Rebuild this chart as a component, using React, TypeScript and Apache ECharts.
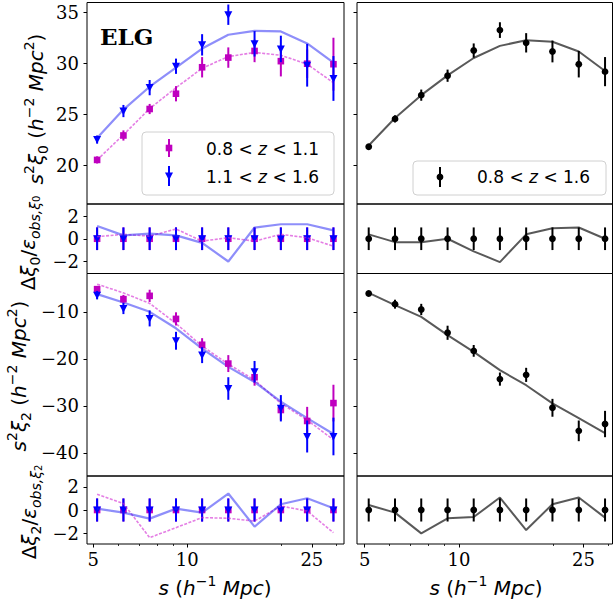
import React, { useEffect, useRef } from 'react';
import * as echarts from 'echarts';

// ---------------- data ----------------
const sBins = [5.15, 6.25, 7.58, 9.2, 11.15, 13.52, 16.4, 19.9, 24.15, 29.3];
const majorTicks = [5, 10, 25];
const minorTicks = [6, 7, 8, 9, 20, 30];
const xi0Ticks = [20, 25, 30, 35];
const xi2Ticks = [-40, -30, -20, -10];
const resTicks = [-2, 0, 2];

const legendLow = '0.8 < z < 1.1';
const legendHigh = '1.1 < z < 1.6';
const legendAll = '0.8 < z < 1.6';

const xi0LowZ = [20.5, 22.9, 25.5, 27.0, 29.6, 30.55, 31.2, 30.2, 29.95, 29.9];
const xi0LowZErr = [0.35, 0.5, 0.5, 0.75, 1.0, 1.0, 1.1, 1.5, 1.4, 2.6];
const xi0HighZ = [22.5, 25.3, 27.6, 29.7, 31.8, 34.76, 31.9, 31.4, 29.8, 28.5];
const xi0HighZErr = [0.4, 0.6, 0.75, 0.75, 1.05, 1.0, 1.25, 1.3, 2.1, 2.2];
const xi0LowZModel = [20.5, 22.97, 25.54, 27.59, 29.5, 30.65, 31.05, 30.78, 29.9, 28.08];
const xi0HighZModel = [22.65, 25.44, 27.69, 29.57, 31.44, 32.79, 33.18, 33.12, 31.94, 30.06];
const res0LowZ = [0.18, 0.39, 0.23, 0.86, -0.21, 0.09, -0.21, 0.39, 0.09, -0.66];
const res0HighZ = [1.13, 0.3, 0.45, 0.3, -0.36, -2.01, 0.99, 1.28, 1.28, 0.74];

const xi0All = [21.79, 24.53, 26.86, 28.77, 31.24, 33.25, 32.0, 31.15, 29.9, 29.17];
const xi0AllErr = [0.2, 0.35, 0.55, 0.6, 0.7, 0.77, 0.95, 1.07, 1.3, 1.43];
const xi0AllModel = [21.92, 24.62, 26.86, 28.8, 30.51, 31.7, 32.26, 32.1, 31.15, 29.23];
const res0All = [0.39, -0.3, -0.3, 0.0, -1.11, -2.06, 0.39, 0.92, 0.99, 0.0];

const xi2LowZ = [-5.18, -7.3, -6.6, -11.5, -17.0, -21.0, -23.9, -30.87, -33.2, -29.4];
const xi2LowZErr = [0.5, 0.9, 1.3, 1.4, 1.4, 1.8, 1.8, 2.1, 3.0, 3.9];
const xi2HighZ = [-6.45, -9.28, -11.4, -16.15, -19.2, -26.3, -22.74, -30.5, -36.5, -36.5];
const xi2HighZErr = [0.9, 1.2, 1.7, 1.9, 1.7, 2.4, 2.3, 2.8, 3.4, 4.0];
const xi2LowZModel = [-4.12, -5.97, -8.2, -12.47, -17.3, -21.1, -24.5, -29.45, -33.0, -37.2];
const xi2HighZModel = [-6.24, -8.0, -10.0, -13.5, -17.8, -21.7, -24.9, -29.1, -32.6, -35.97];
const res2LowZ = [1.37, 0.56, -2.4, -1.53, -0.66, -0.72, -0.96, 0.35, -0.09, -1.97];
const res2HighZ = [0.12, -0.23, -0.75, 0.12, -0.23, 1.43, -1.44, 0.5, 1.02, 0.15];

const xi2All = [-6.1, -8.37, -9.5, -14.45, -18.3, -24.3, -23.4, -30.4, -35.3, -33.85];
const xi2AllErr = [0.3, 0.95, 1.2, 1.5, 1.25, 1.4, 1.5, 1.9, 2.2, 2.8];
const xi2AllModel = [-5.97, -8.58, -11.06, -14.95, -18.5, -22.4, -25.6, -29.45, -32.6, -35.8];
const res2All = [0.43, -0.23, -2.03, -0.72, -0.61, 1.08, -1.74, 0.5, 1.08, -0.66];

const unitErr = sBins.map(() => 1);
const zeroVals = sBins.map(() => 0);

// ---------------- layout ----------------
const COLS = [
  { left: 87, width: 257, xmin: 0.6795, xmax: 1.5006 },
  { left: 357, width: 255.5, xmin: 0.6744, xmax: 1.4907 },
];
const ROWS = [
  { top: 2.5, height: 201.5, ymin: 16.17, ymax: 35.96, ticks: xi0Ticks },
  { top: 204, height: 69.5, ymin: -3.07, ymax: 3.07, ticks: resTicks },
  { top: 273.5, height: 202.5, ymin: -44.9, ymax: -1.85, ticks: xi2Ticks },
  { top: 476, height: 68, ymin: -2.95, ymax: 2.95, ticks: resTicks },
];

const MAG = '#bf00bf';
const BLUE = '#0000ff';
const BLACK = '#000000';
const SERIF = 'DejaVu Serif';
const SANS = 'DejaVu Sans';

const L10 = (v: number) => Math.log10(v);
const fmtNum = (v: number) => (v < 0 ? '\u2212' + Math.abs(v) : String(v));

const linePts = (vals: number[]) => sBins.map((s, i) => [L10(s), vals[i]]);
const errPts = (vals: number[], errs: number[]) => sBins.map((s, i) => [L10(s), vals[i], errs[i]]);

function markerShape(kind: string, cx: number, cy: number, color: string, z?: number): any {
  const base: any = z === undefined ? {} : { z };
  if (kind === 'square') {
    return { ...base, type: 'rect', shape: { x: cx - 3.3, y: cy - 3.3, width: 6.6, height: 6.6 }, style: { fill: color } };
  }
  if (kind === 'tri') {
    return {
      ...base,
      type: 'polygon',
      shape: { points: [[cx - 4, cy - 3.5], [cx + 4, cy - 3.5], [cx, cy + 4.2]] },
      style: { fill: color },
    };
  }
  return { ...base, type: 'circle', shape: { cx, cy, r: 3.4 }, style: { fill: color } };
}

function lineSeries(g: number, vals: number[], style: any, z: number) {
  return {
    type: 'line',
    xAxisIndex: g,
    yAxisIndex: g,
    data: linePts(vals),
    symbol: 'none',
    showSymbol: false,
    lineStyle: style,
    z,
    silent: true,
  };
}

function errSeries(g: number, vals: number[], errs: number[], kind: string, color: string, z: number) {
  return {
    type: 'custom',
    xAxisIndex: g,
    yAxisIndex: g,
    data: errPts(vals, errs),
    encode: { x: 0, y: 1 },
    z,
    silent: true,
    renderItem: (_params: any, api: any) => {
      const x = api.value(0);
      const y = api.value(1);
      const e = api.value(2);
      const p = api.coord([x, y]);
      const lo = api.coord([x, y - e]);
      const hi = api.coord([x, y + e]);
      return {
        type: 'group',
        children: [
          { type: 'line', shape: { x1: p[0], y1: lo[1], x2: p[0], y2: hi[1] }, style: { stroke: color, lineWidth: 2 } },
          markerShape(kind, p[0], p[1], color),
        ],
      };
    },
  };
}

const magLine = { color: 'rgba(210,40,210,0.6)', width: 1.6, type: [3, 1.5] };
const blueLine = { color: 'rgba(30,30,245,0.5)', width: 2.2, type: 'solid' };
const greyLine = { color: 'rgba(0,0,0,0.65)', width: 2, type: 'solid' };

function buildOption(): any {
  const grids: any[] = [];
  const xAxes: any[] = [];
  const yAxes: any[] = [];
  COLS.forEach((c, ci) => {
    ROWS.forEach((r, ri) => {
      const g = ci * 4 + ri;
      grids.push({
        left: c.left,
        top: r.top,
        width: c.width,
        height: r.height,
        show: true,
        borderColor: '#000',
        borderWidth: 1,
        backgroundColor: 'transparent',
        containLabel: false,
      });
      const bottom = ri === 3;
      xAxes.push({
        type: 'value',
        gridIndex: g,
        min: c.xmin,
        max: c.xmax,
        position: 'bottom',
        axisLine: { show: false, onZero: false },
        splitLine: { show: false },
        axisTick: {
          show: bottom,
          customValues: majorTicks.map(L10),
          length: 3.5,
          lineStyle: { color: '#000', width: 1 },
        },
        axisLabel: {
          show: bottom,
          customValues: majorTicks.map(L10),
          formatter: (v: number) => String(Math.round(Math.pow(10, v))),
          fontFamily: SERIF,
          fontSize: 18,
          color: '#000',
          margin: 6,
        },
      });
      const showTicks = ci === 0 || ri === 0 || ri === 2;
      yAxes.push({
        type: 'value',
        gridIndex: g,
        min: r.ymin,
        max: r.ymax,
        position: 'left',
        axisLine: { show: false, onZero: false },
        splitLine: { show: false },
        axisTick: {
          show: showTicks,
          customValues: r.ticks,
          length: 3.5,
          lineStyle: { color: '#000', width: 1 },
        },
        axisLabel: {
          show: ci === 0,
          customValues: r.ticks,
          formatter: fmtNum,
          fontFamily: SERIF,
          fontSize: 18,
          color: '#000',
          margin: 8,
        },
      });
    });
  });
  // minor tick axes for the bottom panels
  [3, 7].forEach((g) => {
    const c = COLS[g < 4 ? 0 : 1];
    xAxes.push({
      type: 'value',
      gridIndex: g,
      min: c.xmin,
      max: c.xmax,
      position: 'bottom',
      axisLine: { show: false, onZero: false },
      splitLine: { show: false },
      axisTick: { show: true, customValues: minorTicks.map(L10), length: 2, lineStyle: { color: '#000', width: 0.8 } },
      axisLabel: { show: false },
    });
  });

  const series: any[] = [
    // left xi0
    lineSeries(0, xi0LowZModel, magLine, 2),
    lineSeries(0, xi0HighZModel, blueLine, 2),
    errSeries(0, xi0LowZ, xi0LowZErr, 'square', MAG, 3),
    errSeries(0, xi0HighZ, xi0HighZErr, 'tri', BLUE, 4),
    // left residual xi0
    lineSeries(1, res0LowZ, magLine, 5),
    lineSeries(1, res0HighZ, blueLine, 5),
    errSeries(1, zeroVals, unitErr, 'square', MAG, 3),
    errSeries(1, zeroVals, unitErr, 'tri', BLUE, 4),
    // left xi2
    lineSeries(2, xi2LowZModel, magLine, 2),
    lineSeries(2, xi2HighZModel, blueLine, 2),
    errSeries(2, xi2LowZ, xi2LowZErr, 'square', MAG, 3),
    errSeries(2, xi2HighZ, xi2HighZErr, 'tri', BLUE, 4),
    // left residual xi2
    lineSeries(3, res2LowZ, magLine, 5),
    lineSeries(3, res2HighZ, blueLine, 5),
    errSeries(3, zeroVals, unitErr, 'square', MAG, 3),
    errSeries(3, zeroVals, unitErr, 'tri', BLUE, 4),
    // right panels
    lineSeries(4, xi0AllModel, greyLine, 2),
    errSeries(4, xi0All, xi0AllErr, 'circle', BLACK, 3),
    lineSeries(5, res0All, greyLine, 2),
    errSeries(5, zeroVals, unitErr, 'circle', BLACK, 3),
    lineSeries(6, xi2AllModel, greyLine, 2),
    errSeries(6, xi2All, xi2AllErr, 'circle', BLACK, 3),
    lineSeries(7, res2All, greyLine, 2),
    errSeries(7, zeroVals, unitErr, 'circle', BLACK, 3),
  ];

  const mathRich = {
    i: { fontFamily: SANS, fontStyle: 'italic', fontSize: 20, lineHeight: 28, fill: '#000', color: '#000' },
    n: { fontFamily: SANS, fontSize: 20, lineHeight: 28, fill: '#000', color: '#000' },
    su: { fontFamily: SANS, fontSize: 14, lineHeight: 14, verticalAlign: 'top', fill: '#000', color: '#000' },
    sb: { fontFamily: SANS, fontSize: 14, lineHeight: 18, verticalAlign: 'bottom', fill: '#000', color: '#000' },
    sbi: { fontFamily: SANS, fontStyle: 'italic', fontSize: 14, lineHeight: 18, verticalAlign: 'bottom', fill: '#000', color: '#000' },
    ssb: { fontFamily: SANS, fontSize: 10, lineHeight: 10, verticalAlign: 'bottom', fill: '#000', color: '#000' },
  };

  const rotText = (x: number, y: number, text: string) => ({
    type: 'text',
    x,
    y,
    rotation: Math.PI / 2,
    z: 100,
    style: { text, rich: mathRich, align: 'center', verticalAlign: 'middle', fill: '#000' },
  });
  const flatText = (x: number, y: number, text: string) => ({
    type: 'text',
    x,
    y,
    z: 100,
    style: { text, rich: mathRich, align: 'center', verticalAlign: 'middle', fill: '#000' },
  });

  const yLab0 = '{i|s}{su|2}{i|ξ}{sb|0}{n| (}{i|h}{su|\u22122}{n| }{i|Mpc}{su|2}{n|)}';
  const yLab2 = '{i|s}{su|2}{i|ξ}{sb|2}{n| (}{i|h}{su|\u22122}{n| }{i|Mpc}{su|2}{n|)}';
  const rLab0 = '{n|Δ}{i|ξ}{sb|0}{n|/}{i|ε}{sbi|obs,ξ}{ssb|0}';
  const rLab2 = '{n|Δ}{i|ξ}{sb|2}{n|/}{i|ε}{sbi|obs,ξ}{ssb|2}';
  const xLab = '{i|s}{n| (}{i|h}{su|\u22121}{n| }{i|Mpc}{n|)}';

  const legRich = {
    n: { fontFamily: SANS, fontSize: 17, fill: '#000', color: '#000' },
    i: { fontFamily: SANS, fontSize: 17, fontStyle: 'italic', fill: '#000', color: '#000' },
  };
  const legText = (x: number, y: number, label: string) => {
    const parts = label.split('z');
    return {
      type: 'text',
      x,
      y,
      z: 102,
      style: {
        text: '{n|' + parts[0] + '}{i|z}{n|' + parts[1] + '}',
        rich: legRich,
        align: 'left',
        verticalAlign: 'middle',
        fill: '#000',
      },
    };
  };
  const legMarker = (x: number, y: number, half: number, kind: string, color: string) => [
    { type: 'line', z: 102, shape: { x1: x, y1: y - half, x2: x, y2: y + half }, style: { stroke: color, lineWidth: 2 } },
    markerShape(kind, x, y, color, 103),
  ];

  const graphic: any[] = [
    {
      type: 'text',
      x: 100,
      y: 36,
      z: 100,
      style: { text: 'ELG', font: 'bold 23px "DejaVu Serif"', fill: '#000', align: 'left', verticalAlign: 'middle' },
    },
    rotText(36, 109, yLab0),
    rotText(27.5, 243, rLab0),
    rotText(18.5, 376, yLab2),
    rotText(29, 512, rLab2),
    flatText(215, 588, xLab),
    flatText(486, 588, xLab),
    {
      type: 'rect',
      z: 100,
      shape: { x: 142, y: 132, width: 192, height: 63, r: 4 },
      style: { fill: 'rgba(255,255,255,0.8)', stroke: '#d0d0d0', lineWidth: 1 },
    },
    ...legMarker(169, 148, 9, 'square', MAG),
    ...legMarker(169, 176, 10, 'tri', BLUE),
    legText(206, 149, legendLow),
    legText(206, 177, legendHigh),
    {
      type: 'rect',
      z: 100,
      shape: { x: 413, y: 161, width: 193, height: 34, r: 4 },
      style: { fill: 'rgba(255,255,255,0.8)', stroke: '#d0d0d0', lineWidth: 1 },
    },
    ...legMarker(440, 177, 10, 'circle', BLACK),
    legText(477, 177, legendAll),
  ];

  return {
    animation: false,
    backgroundColor: '#fff',
    grid: grids,
    xAxis: xAxes,
    yAxis: yAxes,
    series,
    graphic,
  };
}

export default function App() {
  const ref = useRef<HTMLDivElement>(null);
  useEffect(() => {
    if (!ref.current) return;
    const chart = echarts.init(ref.current, null, { renderer: 'svg' });
    chart.setOption(buildOption());
    return () => chart.dispose();
  }, []);
  return (
    <div
      ref={ref}
      style={{ position: 'fixed', left: 0, top: 0, width: 614, height: 607, background: '#fff' }}
    />
  );
}
